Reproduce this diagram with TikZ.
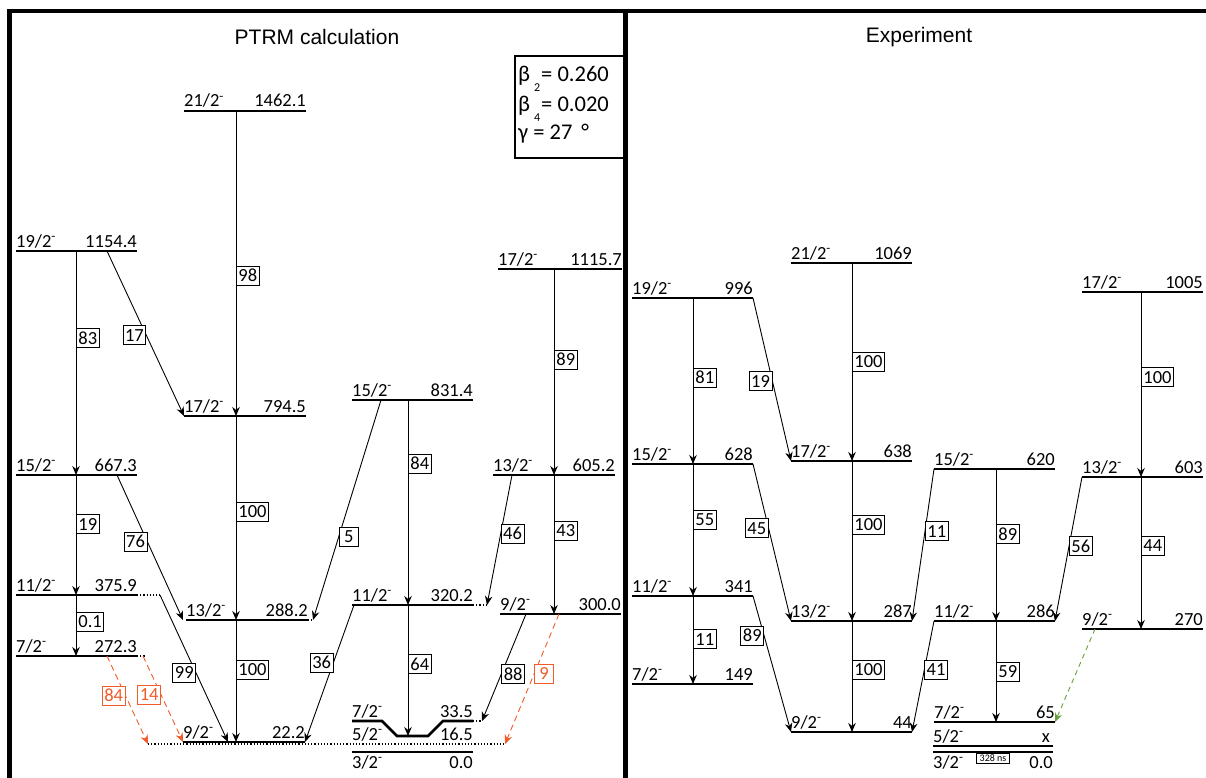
\documentclass[tikz,border=0pt]{standalone}
\usepackage{fontspec}
\setmainfont{Carlito}
\newfontfamily\titlefont{Liberation Sans}
\usetikzlibrary{arrows.meta}

\definecolor{trorange}{RGB}{241,90,41}
\definecolor{trgreen}{RGB}{104,160,64}

\tikzset{
  level/.style={line width=2.6pt},
  gt/.style={line width=0.9pt, -{Stealth[length=9pt,width=7.5pt]}},
  gtx/.style={gt, dash pattern=on 6pt off 4pt},
  lbl/.style={draw, fill=white, solid, line width=0.8pt, inner xsep=2pt, inner ysep=0pt,
    minimum height=19pt, minimum width=19pt},
  spin/.style={anchor=base west, inner sep=0pt, yshift=4pt},
  en/.style={anchor=base east, inner sep=0pt, yshift=4pt},
  dots/.style={line width=1.2pt, dash pattern=on 1.2pt off 2pt},
  frame/.style={line width=4.5pt, line join=miter},
  paneltitle/.style={font=\titlefont\fontsize{21}{24}\selectfont},
}
% level: name, left x, right x, y, spin numerator, energy
\newcommand{\lev}[6]{%
  \coordinate (#1) at (#2,#4);
  \coordinate (#1-r) at (#3,#4);
  \draw[level] (#1) -- (#1-r);
  \node[spin] (#1-j) at (#1) {#5/2\textsuperscript{-}};
  \node[en] (#1-e) at (#1-r) {#6};
}

\begin{document}
\begin{tikzpicture}[x=1pt, y=-1pt, font=\fontsize{18.5}{20}\selectfont]
  \useasboundingbox (0,0) rectangle (1206,778);

  % frame
  \draw[frame] (9.5,778) -- (9.5,11) -- (1206,11);
  \draw[frame] (625.5,11) -- (625.5,778);
  \node[paneltitle] (tcalc) at (317,37) {PTRM calculation};
  \node[paneltitle] (texp) at (919,37) {Experiment};

  % deformation parameters
  \draw[line width=2pt] (625,56) -- (515,56) -- (515,158) -- (625,158);
  \begin{scope}[font=\fontsize{22.5}{24}\selectfont]
    \node[anchor=base west, inner sep=0pt] (b2) at (518,82)
      {β\hspace{4pt}\raisebox{-10pt}{\fontsize{12}{12}\selectfont 2}\hspace{1pt}= 0.260};
    \node[anchor=base west, inner sep=0pt] (b4) at (518,112)
      {β\hspace{4pt}\raisebox{-10pt}{\fontsize{12}{12}\selectfont 4}\hspace{1pt}= 0.020};
    \node[anchor=base west, inner sep=0pt] (gam) at (518,140) {γ = 27 \,°};
  \end{scope}

  % PTRM levels
  \lev{p21}{184}{306}{111}{21}{1462.1}
  \lev{p19}{16}{137}{251}{19}{1154.4}
  \lev{p17b}{498}{622}{269}{17}{1115.7}
  \lev{p15b}{352}{473}{400}{15}{831.4}
  \lev{p17a}{184}{306}{416}{17}{794.5}
  \lev{p15a}{16}{137}{475}{15}{667.3}
  \lev{p13b}{493}{615}{475}{13}{605.2}
  \lev{p11a}{16}{137}{595}{11}{375.9}
  \lev{p11b}{352}{473}{605}{11}{320.2}
  \lev{p9b}{500}{621}{614}{9}{300.0}
  \lev{p13a}{186}{308}{620}{13}{288.2}
  \lev{p7a}{16}{137}{656}{7}{272.3}
  \coordinate (dl) at (148,744);
  \coordinate (dr) at (505,744);
  \draw[dots] (dl) -- (dr);
  \lev{p9a}{183}{305}{742}{9}{22.2}
  \node[spin] (p5-j) at (352,744) {5/2\textsuperscript{-}};
  \node[en] (p5-e) at (473,744) {16.5};
  \coordinate (p7b) at (352,721);
  \coordinate (p7b-r) at (473,721);
  \coordinate (p7t) at (397,736);
  \draw[level] (p7b) -- ++(30,0) -- (p7t) -- ++(31,0) -- ++(15,-15) -- (p7b-r);
  \node[spin] (p7b-j) at (p7b) {7/2\textsuperscript{-}};
  \node[en] (p7b-e) at (p7b-r) {33.5};
  \coordinate (p3) at (352,752);
  \coordinate (p3-r) at (473,752);
  \draw[level] (p3) -- (p3-r);
  \node[anchor=base west, inner sep=0pt] (p3-j) at (352,768) {3/2\textsuperscript{-}};
  \node[anchor=base east, inner sep=0pt] (p3-e) at (473,768) {0.0};
  \draw[dots] (p11a-r) -- ++(23,0);
  \draw[dots] (p7a-r) -- ++(8,0);
  \draw[dots] (p13a-r) -- ++(6,0);
  \draw[dots] (p11b-r) -- ++(14,0);
  \draw[dots] (p7b-r) -- ++(9,0);

  % PTRM transitions
  \draw[gt] ([xshift=52]p21) -- ([xshift=52]p17a) node[lbl, pos=.54, anchor=west] (g98) {98};
  \draw[gt] ([xshift=60]p19) -- ([xshift=60]p15a) node[lbl, pos=.39, anchor=west] (g83) {83};
  \draw[gt] ([xshift=91]p19) -- (p17a) node[lbl, pos=.51, anchor=east] (g17) {17};
  \draw[gt] ([xshift=52]p17a) -- ([xshift=50]p13a) node[lbl, pos=.47, anchor=west] (g100a) {100};
  \draw[gt] ([xshift=56]p17b) -- ([xshift=61]p13b) node[lbl, pos=.44, anchor=west] (g89) {89};
  \draw[gt] ([xshift=56]p15b) -- ([xshift=56]p11b) node[lbl, pos=.31, anchor=west] (g84) {84};
  \draw[gt] ([xshift=29]p15b) -- ([xshift=5]p13a-r) node[lbl, pos=.62, anchor=west] (g5) {5};
  \draw[gt] ([xshift=60]p15a) -- ([xshift=60]p11a) node[lbl, pos=.41, anchor=west] (g19) {19};
  \draw[gt] ([xshift=-20]p15a-r) -- ([xshift=-3]p13a) node[lbl, pos=.46, anchor=east] (g76) {76};
  \draw[gt] ([xshift=19]p13b) -- ([xshift=14]p11b-r) node[lbl, pos=.45, anchor=west] (g46) {46};
  \draw[gt] ([xshift=61]p13b) -- ([xshift=54]p9b) node[lbl, pos=.40, anchor=west] (g43) {43};
  \draw[gt] ([xshift=60]p11a) -- ([xshift=60]p7a) node[lbl, pos=.44, anchor=west] (g01) {0.1};
  \draw[gt] ([xshift=23]p11a-r) -- ([xshift=45]p9a) node[lbl, pos=.53, anchor=east] (g99) {99};
  \draw[gt] ([xshift=50]p13a) -- ([xshift=53]p9a) node[lbl, pos=.41, anchor=west] (g100b) {100};
  \draw[gt] ([xshift=2]p11b) -- (p9a-r) node[lbl, pos=.42, anchor=east] (g36) {36};
  \draw[gt] ([xshift=56]p11b) -- ([xshift=11]p7t) node[lbl, pos=.45, anchor=west] (g64) {64};
  \draw[gt] ([xshift=26]p9b) -- ([xshift=9]p7b-r) node[lbl, pos=.56, anchor=west] (g88) {88};
  \draw[gtx, trorange] ([xshift=59]p9b) -- (dr)
    node[lbl, draw=trorange, text=trorange, pos=.46, anchor=west] (g9) {9};
  \draw[gtx, trorange] ([xshift=-30]p7a-r) -- (dl)
    node[lbl, draw=trorange, text=trorange, pos=.45, anchor=east] (g84o) {84};
  \draw[gtx, trorange] ([xshift=6]p7a-r) -- (p9a)
    node[lbl, draw=trorange, text=trorange, pos=.45, anchor=east] (g14o) {14};

  % experimental levels
  \lev{e21}{791}{912}{263}{21}{1069}
  \lev{e19}{632}{753}{298}{19}{996}
  \lev{e17b}{1082}{1203}{292}{17}{1005}
  \lev{e17a}{791}{912}{461}{17}{638}
  \lev{e15a}{632}{753}{464}{15}{628}
  \lev{e15b}{934}{1055}{469}{15}{620}
  \lev{e13b}{1082}{1203}{477}{13}{603}
  \lev{e11a}{632}{753}{596}{11}{341}
  \lev{e13a}{791}{912}{621}{13}{287}
  \lev{e11b}{934}{1055}{621}{11}{286}
  \lev{e9b}{1082}{1203}{629}{9}{270}
  \lev{e7a}{632}{753}{684}{7}{149}
  \lev{e7b}{934}{1055}{722}{7}{65}
  \lev{e9a}{791}{912}{732}{9}{44}
  \coordinate (e5) at (933,746);
  \coordinate (e5-r) at (1053,746);
  \draw[line width=1.3pt] (e5) -- (e5-r);
  \node[spin] (e5-j) at (e5) {5/2\textsuperscript{-}};
  \node[en, xshift=-3pt] (e5-e) at (e5-r) {x};
  \coordinate (e3) at (933,752);
  \coordinate (e3-r) at (1053,752);
  \draw[level] (e3) -- (e3-r);
  \node[anchor=base west, inner sep=0pt] (e3-j) at (933,768) {3/2\textsuperscript{-}};
  \node[anchor=base east, inner sep=0pt] (e3-e) at (1053,768) {0.0};
  \node[draw, line width=0.6pt, inner xsep=3pt, inner ysep=1pt, minimum height=9.5pt,
    font=\fontsize{10}{10}\selectfont] (e3-t) at (993,758.5) {328 ns};

  % experimental transitions
  \draw[gt] ([xshift=61]e19) -- ([xshift=61]e15a) node[lbl, pos=.48, anchor=west] (x81) {81};
  \draw[gt] (e19-r) -- (e17a) node[lbl, pos=.51, anchor=east] (x19) {19};
  \draw[gt] ([xshift=61]e21) -- ([xshift=61]e17a) node[lbl, pos=.50, anchor=west] (x100a) {100};
  \draw[gt] ([xshift=59]e17b) -- ([xshift=59]e13b) node[lbl, pos=.46, anchor=west] (x100b) {100};
  \draw[gt] ([xshift=61]e15a) -- ([xshift=61]e11a) node[lbl, pos=.42, anchor=west] (x55) {55};
  \draw[gt] (e15a-r) -- (e13a) node[lbl, pos=.41, anchor=east] (x45) {45};
  \draw[gt] ([xshift=61]e17a) -- ([xshift=61]e13a) node[lbl, pos=.40, anchor=west] (x100c) {100};
  \draw[gt] (e15b) -- (e13a-r) node[lbl, pos=.41, anchor=west] (x11b) {11};
  \draw[gt] ([xshift=62]e15b) -- ([xshift=62]e11b) node[lbl, pos=.43, anchor=west] (x89b) {89};
  \draw[gt] (e13b) -- (e11b-r) node[lbl, pos=.48, anchor=west] (x56) {56};
  \draw[gt] ([xshift=59]e13b) -- ([xshift=59]e9b) node[lbl, pos=.45, anchor=west] (x44) {44};
  \draw[gt] ([xshift=61]e11a) -- ([xshift=61]e7a) node[lbl, pos=.49, anchor=west] (x11a) {11};
  \draw[gt] (e11a-r) -- (e9a) node[lbl, pos=.29, anchor=east] (x89a) {89};
  \draw[gt] ([xshift=61]e13a) -- ([xshift=61]e9a) node[lbl, pos=.44, anchor=west] (x100d) {100};
  \draw[gt] (e11b) -- (e9a-r) node[lbl, pos=.44, anchor=west] (x41) {41};
  \draw[gt] ([xshift=62]e11b) -- ([xshift=62]e7b) node[lbl, pos=.50, anchor=west] (x59) {59};
  \draw[gt, trgreen, dash pattern=on 5pt off 4pt] ([xshift=13]e9b) -- (e7b-r);
\end{tikzpicture}
\end{document}
